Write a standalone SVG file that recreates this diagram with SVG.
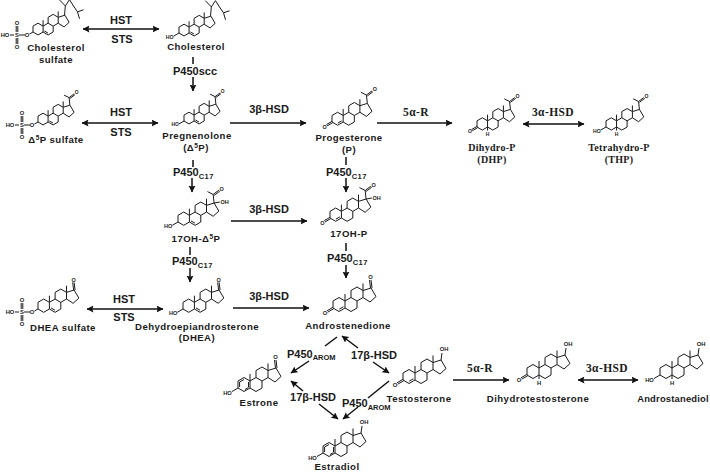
<svg xmlns="http://www.w3.org/2000/svg" xmlns:xlink="http://www.w3.org/1999/xlink" width="710" height="472" viewBox="0 0 710 472">
<style>
text{font-family:"Liberation Sans",Arial,sans-serif;font-weight:bold;fill:#1a1a1a}
.n{font-size:9.6px;letter-spacing:.45px;text-anchor:middle}
.ns{font-family:"Liberation Serif","Times New Roman",serif;font-size:10px;letter-spacing:.3px;text-anchor:middle}
.e{font-size:11px;text-anchor:middle}
.p{font-size:11px}
.er{font-family:"Liberation Serif","Times New Roman",serif;font-size:11.5px;letter-spacing:.4px;text-anchor:middle}
.a{font-size:5.8px;text-anchor:middle;dominant-baseline:central}
.b{fill:none;stroke:#1a1a1a;stroke-width:1;vector-effect:non-scaling-stroke}
.c line{stroke:#111;stroke-width:1.5}
.ar{marker-end:url(#h)}
.dbl{marker-end:url(#h);marker-start:url(#hs)}
</style>
<defs>
<marker id="h" markerUnits="userSpaceOnUse" markerWidth="8" markerHeight="8" refX="6.5" refY="3.5" orient="auto"><path d="M0 0L7 3.5 0 7 1.2 3.5Z" fill="#111"/></marker>
<marker id="hs" markerUnits="userSpaceOnUse" markerWidth="8" markerHeight="8" refX="0.5" refY="3.5" orient="auto"><path d="M7 0L0 3.5 7 7 5.8 3.5Z" fill="#111"/></marker>
<path id="sk" class="b" d="M0 0V-7L6 -10.5 12 -7V0L6 3.5Z M12 -7L18 -10.5 24 -7V0L18 3.5 12 0 M18 -10.5V-17.5L24 -21 30 -17.5V-10.5L24 -7 M30 -17.5L38 -20 43 -11.5 37 -6 30 -10.5 M12 -7V-14 M30 -17.5V-24.5"/>
<path id="d5" class="b" d="M13.6 -1.2L17.8 1.2"/>
<path id="d4" class="b" d="M6.2 1.2L10.4 -1.2"/>
<g id="ho"><path class="b" d="M0 0L-6 3.5"/><text class="a" x="-10.5" y="4.5">HO</text></g>
<g id="ketoA"><path class="b" d="M0 -0.7L-6 2.8 M0.7 0.7L-5.3 4.2"/><text class="a" x="-8" y="5">O</text></g>
<g id="acetyl"><path class="b" d="M38 -20L37 -29 31 -32 M37 -29L43 -33.5 M38 -28L44 -32.5"/><text class="a" x="46" y="-35">O</text></g>
<g id="keto17"><path class="b" d="M37.5 -20L36.5 -28 M39 -20L38 -28"/><text class="a" x="37.5" y="-31">O</text></g>
<g id="oh17"><path class="b" d="M38 -20L39 -27"/><text class="a" x="41" y="-31">OH</text></g>
<g id="hh"><path class="b" d="M12 0V4"/><text class="a" x="12" y="8">H</text></g>
<path id="ar" class="b" d="M1.6 -1V-6L6 -8.5 M7 1.5L10.5 -.5 M10.5 -6V-1"/>
<g id="sulf"><path class="b" d="M0 0L-3.5 2 M-8 3H-14 M-19 3H-23 M-16.8 0V-6 M-15.2 0V-6 M-16.8 6V12 M-15.2 6V12"/><text class="a" x="-6" y="3">O</text><text class="a" x="-16" y="3">S</text><text class="a" x="-16" y="-9">O</text><text class="a" x="-16" y="15">O</text><text class="a" x="-28" y="3">HO</text></g>
</defs>

<g id="connectors" class="c">
<line class="dbl" x1="83" y1="29" x2="159" y2="29"/>
<line class="dbl" x1="82" y1="123" x2="158" y2="123"/>
<line class="dbl" x1="87" y1="309" x2="163" y2="309"/>
<line x1="193" y1="57" x2="193" y2="64"/>
<line class="ar" x1="193" y1="77" x2="193" y2="91"/>
<line x1="193" y1="160" x2="193" y2="167"/>
<line class="ar" x1="192" y1="178" x2="192" y2="192"/>
<line x1="190" y1="247" x2="190" y2="255"/>
<line class="ar" x1="190" y1="268" x2="190" y2="282"/>
<line x1="346" y1="157" x2="346" y2="165"/>
<line class="ar" x1="346" y1="178" x2="346" y2="192"/>
<line x1="346" y1="243" x2="346" y2="251"/>
<line class="ar" x1="346" y1="265" x2="346" y2="278"/>
<line class="ar" x1="230" y1="123" x2="306" y2="123"/>
<line class="ar" x1="231" y1="221" x2="307" y2="221"/>
<line class="ar" x1="233" y1="308" x2="309" y2="308"/>
<line class="ar" x1="377" y1="123" x2="452" y2="123"/>
<line class="dbl" x1="523" y1="124" x2="584" y2="124"/>
<line class="ar" x1="453" y1="380" x2="509" y2="380"/>
<line class="dbl" x1="578" y1="380" x2="638" y2="380"/>
<line x1="337" y1="337" x2="325" y2="346"/>
<line class="ar" x1="309" y1="361" x2="291" y2="373"/>
<line class="ar" x1="358" y1="348" x2="342" y2="336"/>
<line class="ar" x1="373" y1="362" x2="389" y2="373"/>
<line class="ar" x1="303" y1="391" x2="291" y2="381"/>
<line class="ar" x1="319" y1="404" x2="338" y2="419"/>
<line x1="389" y1="381" x2="368" y2="398"/>
<line class="ar" x1="358" y1="407" x2="343" y2="419"/>
</g>

<g id="enzyme-labels">
<text class="e" x="121" y="24">HST</text><text class="e" x="122" y="43">STS</text>
<text class="e" x="121" y="116">HST</text><text class="e" x="121" y="136">STS</text>
<text class="e" x="124" y="303">HST</text><text class="e" x="124" y="321">STS</text>
<text class="p" x="173" y="74.5">P450scc</text>
<text class="p" x="173" y="176">P450<tspan font-size="7.5" dy="2.5" letter-spacing=".5">C17</tspan></text>
<text class="p" x="172" y="265">P450<tspan font-size="7.5" dy="2.5" letter-spacing=".5">C17</tspan></text>
<text class="p" x="326" y="176">P450<tspan font-size="7.5" dy="2.5" letter-spacing=".5">C17</tspan></text>
<text class="p" x="327" y="262">P450<tspan font-size="7.5" dy="2.5" letter-spacing=".5">C17</tspan></text>
<text class="e" x="269" y="113">3β-HSD</text>
<text class="e" x="269" y="213">3β-HSD</text>
<text class="e" x="269" y="300">3β-HSD</text>
<text class="er" x="416" y="116">5α-R</text>
<text class="er" x="553" y="116">3α-HSD</text>
<text class="er" x="480" y="372">5α-R</text>
<text class="er" x="607" y="372">3α-HSD</text>
<text class="p" x="287" y="357.5">P450<tspan font-size="7.5" dy="2.5">AROM</tspan></text>
<text class="p" x="342" y="407">P450<tspan font-size="7.5" dy="2.5">AROM</tspan></text>
<text class="e" x="374" y="359">17β-HSD</text>
<text class="e" x="313" y="401">17β-HSD</text>
</g>

<g id="node-cholesterol-sulfate">
<use xlink:href="#sk" transform="translate(33 32) scale(.84)"/><use xlink:href="#d5" transform="translate(33 32) scale(.84)"/>
<path class="b" transform="translate(33 32) scale(.84)" d="M37.5 -20L38.5 -31 31.3 -38.5 M38.5 -31L43.4 -38.5 48.2 -31 53 -24 60.2 -26.5 M53 -24L55.4 -15.7"/>
<use xlink:href="#sulf" transform="translate(33 32)"/>
<text class="n" x="56" y="50.5">Cholesterol</text><text class="n" x="56" y="63">sulfate</text>
</g>
<g id="node-cholesterol">
<use xlink:href="#sk" transform="translate(179 33) scale(.84)"/><use xlink:href="#d5" transform="translate(179 33) scale(.84)"/>
<path class="b" transform="translate(179 33) scale(.84)" d="M37.5 -20L38.5 -31 31.3 -38.5 M38.5 -31L43.4 -38.5 48.2 -31 53 -24 60.2 -26.5 M53 -24L55.4 -15.7"/>
<use xlink:href="#ho" transform="translate(179 33) scale(.9)"/>
<text class="n" x="196" y="49.5">Cholesterol</text>
</g>
<g id="node-d5p-sulfate">
<g transform="translate(38 122) scale(.84)"><use xlink:href="#sk"/><use xlink:href="#d5"/><use xlink:href="#acetyl"/></g>
<use xlink:href="#sulf" transform="translate(38 122)"/>
<text class="n" x="56" y="143">Δ<tspan font-size="6.5" dy="-3">5</tspan><tspan dy="3">P sulfate</tspan></text>
</g>
<g id="node-pregnenolone">
<g transform="translate(184 121) scale(.84)"><use xlink:href="#sk"/><use xlink:href="#d5"/><use xlink:href="#acetyl"/><use xlink:href="#ho"/></g>
<text class="n" x="197" y="138.5">Pregnenolone</text>
<text class="n" x="196" y="150.5">(Δ<tspan font-size="6.5" dy="-3">5</tspan><tspan dy="3">P)</tspan></text>
</g>
<g id="node-progesterone">
<g transform="translate(332 122) scale(.93)"><use xlink:href="#sk"/><use xlink:href="#d4"/><use xlink:href="#acetyl"/><use xlink:href="#ketoA"/></g>
<text class="n" x="349" y="140.5">Progesterone</text><text class="n" x="349" y="152.5">(P)</text>
</g>
<g id="node-dihydro-p">
<g transform="translate(477 127) scale(.88)"><use xlink:href="#sk"/><use xlink:href="#hh"/><use xlink:href="#acetyl"/><use xlink:href="#ketoA"/></g>
<text class="ns" x="492" y="150.5">Dihydro-P</text><text class="ns" x="492" y="162.5">(DHP)</text>
</g>
<g id="node-tetrahydro-p">
<g transform="translate(606 127) scale(.88)"><use xlink:href="#sk"/><use xlink:href="#hh"/><use xlink:href="#acetyl"/><use xlink:href="#ho"/></g>
<text class="ns" x="619" y="150.5">Tetrahydro-P</text><text class="ns" x="619" y="162.5">(THP)</text>
</g>
<g id="node-17oh-d5p">
<g transform="translate(178 222) scale(.95)"><use xlink:href="#sk"/><use xlink:href="#d5"/><use xlink:href="#acetyl"/><use xlink:href="#ho"/><path class="b" d="M38 -20L44 -21"/><text class="a" x="49" y="-21">OH</text></g>
<text class="n" x="196" y="241.5">17OH-Δ<tspan font-size="6.5" dy="-3">5</tspan><tspan dy="3">P</tspan></text>
</g>
<g id="node-17oh-p">
<g transform="translate(330 218) scale(.95)"><use xlink:href="#sk"/><use xlink:href="#d4"/><use xlink:href="#acetyl"/><use xlink:href="#ketoA"/><path class="b" d="M38 -20L44 -21"/><text class="a" x="49" y="-21">OH</text></g>
<text class="n" x="349" y="236.5">17OH-P</text>
</g>
<g id="node-dhea-sulfate">
<g transform="translate(38 309) scale(.95)"><use xlink:href="#sk"/><use xlink:href="#d5"/><use xlink:href="#keto17"/></g>
<use xlink:href="#sulf" transform="translate(38 309)"/>
<text class="n" x="63" y="330.5">DHEA sulfate</text>
</g>
<g id="node-dhea">
<g transform="translate(183 309) scale(.95)"><use xlink:href="#sk"/><use xlink:href="#d5"/><use xlink:href="#keto17"/><use xlink:href="#ho"/></g>
<text class="n" x="197" y="329.5">Dehydroepiandrosterone</text><text class="n" x="197" y="341">(DHEA)</text>
</g>
<g id="node-androstenedione">
<g transform="translate(333 308)"><use xlink:href="#sk"/><use xlink:href="#d4"/><use xlink:href="#keto17"/><use xlink:href="#ketoA"/></g>
<text class="n" x="348" y="328.5">Androstenedione</text>
</g>
<g id="node-estrone">
<g transform="translate(238 388)"><use xlink:href="#sk"/><use xlink:href="#ar"/><use xlink:href="#keto17"/><use xlink:href="#ho"/></g>
<text class="n" x="259" y="405.5">Estrone</text>
</g>
<g id="node-testosterone">
<g transform="translate(403 380)"><use xlink:href="#sk"/><use xlink:href="#d4"/><use xlink:href="#oh17"/><use xlink:href="#ketoA"/></g>
<text class="n" x="419" y="401.5">Testosterone</text>
</g>
<g id="node-estradiol">
<g transform="translate(323 453)"><use xlink:href="#sk"/><use xlink:href="#ar"/><use xlink:href="#oh17"/><use xlink:href="#ho"/></g>
<text class="n" x="337" y="470">Estradiol</text>
</g>
<g id="node-dihydrotestosterone">
<g transform="translate(527 375)"><use xlink:href="#sk"/><use xlink:href="#hh"/><use xlink:href="#oh17"/><use xlink:href="#ketoA"/></g>
<text class="n" x="538" y="401.5">Dihydrotestosterone</text>
</g>
<g id="node-androstanediol">
<g transform="translate(660 375)"><use xlink:href="#sk"/><use xlink:href="#hh"/><use xlink:href="#oh17"/><use xlink:href="#ho"/></g>
<text class="n" x="673" y="401.5" style="font-size:9.4px;letter-spacing:.2px">Androstanediol</text>
</g>
</svg>
